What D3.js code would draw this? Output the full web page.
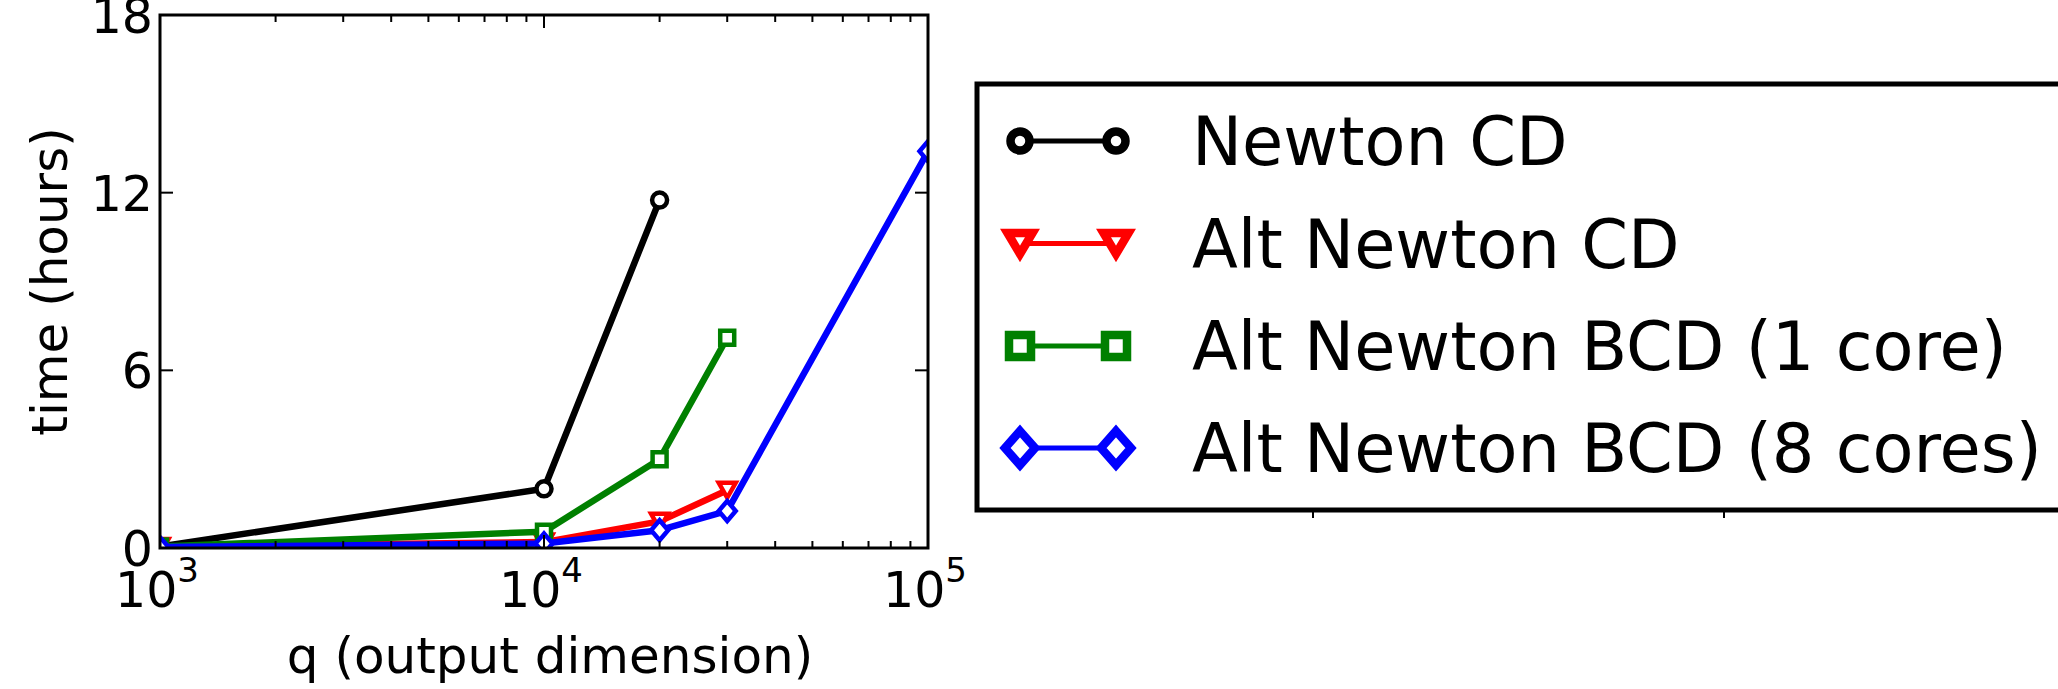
<!DOCTYPE html>
<html>
<head>
<meta charset="utf-8">
<script src="https://cdn.jsdelivr.net/npm/d3@7"></script>
<style>
  html, body { margin: 0; padding: 0; background: #fff; }
  svg { display: block; font-family: "DejaVu Sans", sans-serif; }
</style>
</head>
<body>
<svg id="chart" width="2058" height="689"></svg>
<script>
// Output dimension q for each run
const qValues = [1000, 10000, 20000, 30000, 100000];

// Wall-clock time in hours, one array per solver
const newtonCD     = [0.05, 2.0, 11.75];
const altNewtonCD  = [0.05, 0.2, 0.9, 1.95];
const altBCD1Core  = [0.05, 0.55, 3.0, 7.1];
const altBCD8Cores = [0.03, 0.15, 0.6, 1.25, 13.4];

const seriesNames  = ["Newton CD", "Alt Newton CD", "Alt Newton BCD (1 core)", "Alt Newton BCD (8 cores)"];
const seriesColors = ["#000000", "#ff0000", "#008000", "#0000ff"];
const seriesShapes = ["circle", "triangleDown", "square", "diamond"];

const yTicks = [0, 6, 12, 18];
const xMajorTicks = [1e3, 1e4, 1e5];
const xTickExponents = ["3", "4", "5"];

const seriesValues = [newtonCD, altNewtonCD, altBCD1Core, altBCD8Cores];

const svg = d3.select("#chart");

const plot = { left: 160, right: 928, top: 15, bottom: 548 };

const x = d3.scaleLog().domain([1e3, 1e5]).range([plot.left, plot.right]);
const y = d3.scaleLinear().domain([0, 18]).range([plot.bottom, plot.top]);

// marker path generator; sizes are half-extents
function markerPath(shape, s) {
  const p = d3.path();
  if (shape === "circle") {
    p.arc(0, 0, s.r, 0, Math.PI * 2);
  } else if (shape === "triangleDown") {
    p.moveTo(-s.w / 2, -s.h / 2); p.lineTo(s.w / 2, -s.h / 2); p.lineTo(0, s.h / 2); p.closePath();
  } else if (shape === "square") {
    p.rect(-s.a / 2, -s.a / 2, s.a, s.a);
  } else if (shape === "diamond") {
    p.moveTo(0, -s.dh); p.lineTo(s.dw, 0); p.lineTo(0, s.dh); p.lineTo(-s.dw, 0); p.closePath();
  }
  return p.toString();
}

const plotMarker = { r: 7.5, w: 17, h: 15, a: 14, dw: 8.5, dh: 10 };
const legendMarker = { r: 9.5, w: 25, h: 21, a: 22, dw: 15, dh: 17 };

// clip region = axes area
svg.append("defs").append("clipPath").attr("id", "plotClip")
  .append("rect")
  .attr("x", plot.left).attr("y", plot.top)
  .attr("width", plot.right - plot.left).attr("height", plot.bottom - plot.top);

const dataLayer = svg.append("g").attr("clip-path", "url(#plotClip)");

const line = d3.line().x(d => x(d.q)).y(d => y(d.t));

seriesValues.forEach((vals, i) => {
  const pts = vals.map((t, j) => ({ q: qValues[j], t }));
  const g = dataLayer.append("g");
  g.append("path")
    .datum(pts)
    .attr("d", line)
    .attr("fill", "none")
    .attr("stroke", seriesColors[i])
    .attr("stroke-width", 6.5)
    .attr("stroke-linejoin", "round");
  g.selectAll("path.marker")
    .data(pts)
    .enter().append("path")
    .attr("class", "marker")
    .attr("transform", d => `translate(${x(d.q)},${y(d.t)})`)
    .attr("d", markerPath(seriesShapes[i], plotMarker))
    .attr("fill", "#fff")
    .attr("stroke", seriesColors[i])
    .attr("stroke-width", 4.5);
});

// ticks (inward, on all four sides)
const ticks = svg.append("g").attr("stroke", "#000").attr("stroke-width", 2);
const minorTicks = [];
[1e3, 1e4].forEach(dec => { for (let k = 2; k <= 9; k++) minorTicks.push(dec * k); });

xMajorTicks.forEach(v => {
  ticks.append("line").attr("x1", x(v)).attr("x2", x(v)).attr("y1", plot.bottom).attr("y2", plot.bottom - 13);
  ticks.append("line").attr("x1", x(v)).attr("x2", x(v)).attr("y1", plot.top).attr("y2", plot.top + 13);
});
minorTicks.forEach(v => {
  ticks.append("line").attr("x1", x(v)).attr("x2", x(v)).attr("y1", plot.bottom).attr("y2", plot.bottom - 7);
  ticks.append("line").attr("x1", x(v)).attr("x2", x(v)).attr("y1", plot.top).attr("y2", plot.top + 7);
});
yTicks.forEach(v => {
  ticks.append("line").attr("x1", plot.left).attr("x2", plot.left + 13).attr("y1", y(v)).attr("y2", y(v));
  ticks.append("line").attr("x1", plot.right).attr("x2", plot.right - 13).attr("y1", y(v)).attr("y2", y(v));
});

// axes frame
svg.append("rect")
  .attr("x", plot.left).attr("y", plot.top)
  .attr("width", plot.right - plot.left).attr("height", plot.bottom - plot.top)
  .attr("fill", "none").attr("stroke", "#000").attr("stroke-width", 3);

// y tick labels
svg.append("g").selectAll("text")
  .data(yTicks).enter().append("text")
  .attr("x", 153)
  .attr("y", d => y(d) + 18)
  .attr("text-anchor", "end")
  .attr("font-size", 49)
  .text(d => d);

// x tick labels as powers of ten
xMajorTicks.forEach((v, i) => {
  const t = svg.append("text")
    .attr("x", x(v) - 3)
    .attr("y", 607)
    .attr("text-anchor", "middle")
    .attr("font-size", 49);
  t.append("tspan").text("10");
  t.append("tspan").attr("dy", -25).attr("font-size", 34).text(xTickExponents[i]);
});

// axis titles
svg.append("text")
  .attr("x", (plot.left + plot.right) / 2 + 6)
  .attr("y", 673)
  .attr("text-anchor", "middle")
  .attr("font-size", 50)
  .text("q (output dimension)");

svg.append("text")
  .attr("transform", `translate(67,${(plot.top + plot.bottom) / 2}) rotate(-90)`)
  .attr("text-anchor", "middle")
  .attr("font-size", 50)
  .text("time (hours)");

// small ticks peeking out below the legend box
[1313, 1724].forEach(px => {
  svg.append("line").attr("x1", px).attr("x2", px).attr("y1", 511).attr("y2", 518)
    .attr("stroke", "#000").attr("stroke-width", 2);
});

// legend
const legend = svg.append("g");
legend.append("rect")
  .attr("x", 977).attr("y", 84)
  .attr("width", 1200).attr("height", 426)
  .attr("fill", "#fff").attr("stroke", "#000").attr("stroke-width", 5);

const legendRowY = [141, 243.5, 346, 448];
seriesNames.forEach((name, i) => {
  const row = legend.append("g").attr("transform", `translate(0,${legendRowY[i]})`);
  row.append("line")
    .attr("x1", 1020).attr("x2", 1116).attr("y1", 0).attr("y2", 0)
    .attr("stroke", seriesColors[i]).attr("stroke-width", 5);
  [1020, 1116].forEach(mx => {
    row.append("path")
      .attr("transform", `translate(${mx},0)`)
      .attr("d", markerPath(seriesShapes[i], legendMarker))
      .attr("fill", "#fff")
      .attr("stroke", seriesColors[i])
      .attr("stroke-width", 8.5);
  });
  row.append("text")
    .attr("x", 1192).attr("y", 24)
    .attr("font-size", 67)
    .text(name);
});
</script>
</body>
</html>
